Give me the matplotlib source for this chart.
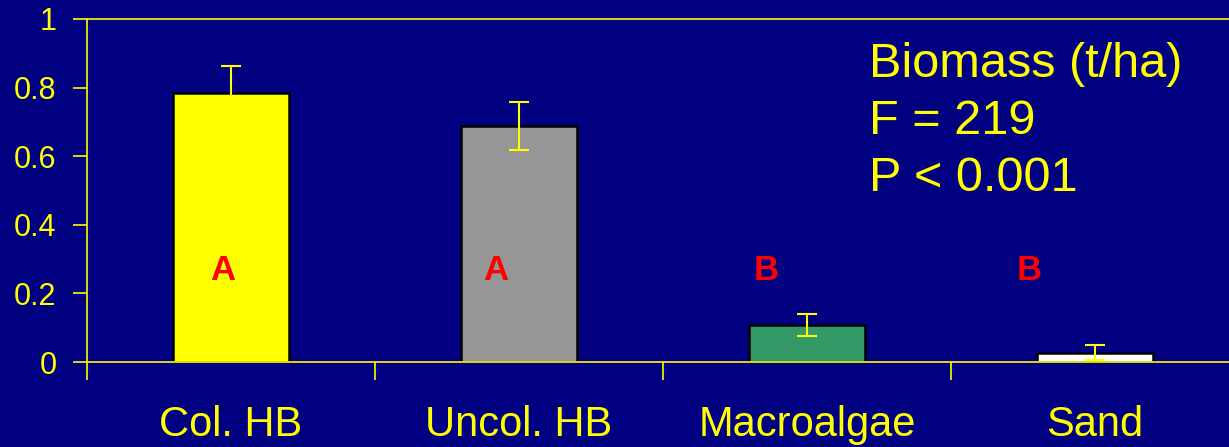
import numpy as np
import matplotlib
matplotlib.use("Agg")
import matplotlib.pyplot as plt

plt.rcParams['font.family'] = ['Liberation Sans', 'DejaVu Sans']

# data
categories = ["Col. HB", "Uncol. HB", "Macroalgae", "Sand"]
biomass = [0.785, 0.688, 0.108, 0.027]
errors = [0.077, 0.071, 0.032, 0.022]
groups = ["A", "A", "B", "B"]
stats_lines = ["Biomass (t/ha)", "F = 219", "P < 0.001"]

bar_colors = ["#FFFF00", "#969696", "#339966", "#FFFFFF"]
letter_shift = [-0.03, -0.08, -0.14, -0.23]
navy = "#000080"
yellow = "#FFFF00"

W, H = 1229, 447
fig = plt.figure(figsize=(W / 100, H / 100), dpi=100, facecolor=navy)
ax = fig.add_axes([87 / W, (H - 362) / H, 1152 / W, 343 / H], facecolor=navy)

x = np.arange(len(categories))
ax.bar(x, biomass, width=0.4, color=bar_colors, edgecolor="black",
       linewidth=1.8, zorder=2)
ax.errorbar(x, biomass, yerr=errors, fmt="none", ecolor=yellow,
            elinewidth=1.5, capsize=7, capthick=1.5, zorder=3)

for xi, s, g in zip(x, letter_shift, groups):
    ax.text(xi + s, 0.238, g, color="#FF0000", fontsize=25, fontweight="bold",
            ha="center", va="baseline", zorder=4)

# annotation, one line at a time
for i, line in enumerate(stats_lines):
    ax.text(0.679, 0.831 - i * 0.166, line, transform=ax.transAxes,
            color=yellow, fontsize=35, ha="left", va="baseline")

ax.set_xlim(-0.5, 3.5)
ax.set_ylim(0, 1)
ax.set_yticks([0, 0.2, 0.4, 0.6, 0.8, 1])
ax.set_yticklabels(["0", "0.2", "0.4", "0.6", "0.8", "1"])
ax.set_xticks(x)
ax.set_xticklabels(categories)
ax.set_xticks(np.arange(-0.5, 4, 1), minor=True)

ax.tick_params(axis="y", colors=yellow, labelsize=22, length=10, width=1.2,
               direction="out", pad=12)
ax.tick_params(axis="x", which="major", colors=yellow, labelsize=30,
               length=0, pad=31)
ax.tick_params(axis="x", which="minor", colors=yellow, length=13, width=1.2,
               direction="out")

for side in ["left", "bottom", "top"]:
    ax.spines[side].set_color(yellow)
    ax.spines[side].set_linewidth(1.2)
ax.spines["right"].set_visible(False)

fig.savefig("out.png", dpi=100, facecolor=navy)
